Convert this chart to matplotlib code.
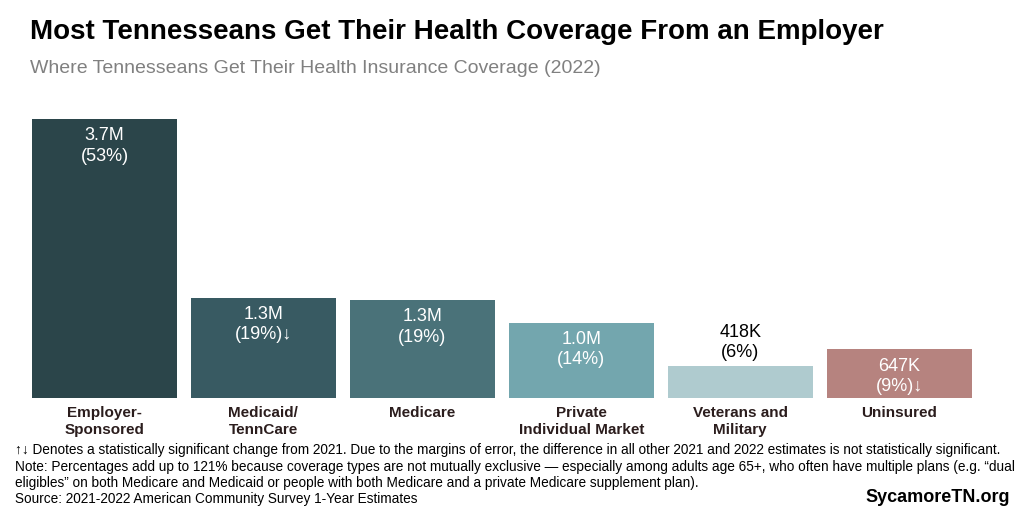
import matplotlib.pyplot as plt

categories = ['Employer-\nSponsored', 'Medicaid/\nTennCare', 'Medicare',
              'Private\nIndividual Market', 'Veterans and\nMilitary', 'Uninsured']
values = [3.70, 1.33, 1.30, 1.00, 0.418, 0.647]  # millions
value_labels = ['3.7M', '1.3M', '1.3M', '1.0M', '418K', '647K']
pct_labels = ['(53%)', '(19%)\u2193', '(19%)', '(14%)', '(6%)', '(9%)\u2193']
colors = ['#2b454a', '#385a62', '#4a7279', '#73a6ae', '#afcbcf', '#b6837f']
label_inside = [True, True, True, True, False, True]

plt.rcParams['font.family'] = ['Liberation Sans', 'DejaVu Sans']

fig = plt.figure(figsize=(10.24, 5.12), dpi=100)
ax = fig.add_axes([0.0244, 0.2227, 0.9312, 0.5449])

x = range(len(categories))
bars = ax.bar(x, values, width=0.912, color=colors)
ax.set_xlim(-0.5, len(categories) - 0.5)
ax.set_ylim(0, 3.70)

for i, b in enumerate(bars):
    txt = value_labels[i] + '\n' + pct_labels[i]
    if label_inside[i]:
        ax.annotate(txt, (b.get_x() + b.get_width() / 2, b.get_height()),
                    xytext=(0, -6), textcoords='offset points', ha='center', va='top',
                    color='white', fontsize=13, linespacing=1.25)
    else:
        ax.annotate(txt, (b.get_x() + b.get_width() / 2, b.get_height()),
                    xytext=(0, 4), textcoords='offset points', ha='center', va='bottom',
                    color='black', fontsize=13, linespacing=1.25)

ax.set_xticks(list(x))
ax.set_xticklabels(categories, fontsize=11, fontweight='bold', color='#2b1d1d', linespacing=1.2)
ax.tick_params(axis='x', length=0, pad=6)
ax.set_yticks([])
for s in ax.spines.values():
    s.set_visible(False)

fig.text(0.029, 0.938, 'Most Tennesseans Get Their Health Coverage From an Employer',
         fontsize=20, fontweight='bold', va='center', ha='left')
fig.text(0.029, 0.867, 'Where Tennesseans Get Their Health Insurance Coverage (2022)',
         fontsize=14, color='#808080', va='center', ha='left')

notes = [
    '\u2191\u2193 Denotes a statistically significant change from 2021. Due to the margins of error, the difference in all other 2021 and 2022 estimates is not statistically significant.',
    'Note: Percentages add up to 121% because coverage types are not mutually exclusive \u2014 especially among adults age 65+, who often have multiple plans (e.g. \u201cdual',
    'eligibles\u201d on both Medicare and Medicaid or people with both Medicare and a private Medicare supplement plan).',
    'Source: 2021-2022 American Community Survey 1-Year Estimates',
]
ys = [450, 467, 483, 499]
for t, yy in zip(notes, ys):
    fig.text(0.015, 1 - yy / 512, t, fontsize=9.8, va='center', ha='left')

fig.text(0.986, 1 - 498 / 512, 'SycamoreTN.org', fontsize=13, fontweight='bold',
         va='center', ha='right')

fig.savefig('out.png', dpi=100)
